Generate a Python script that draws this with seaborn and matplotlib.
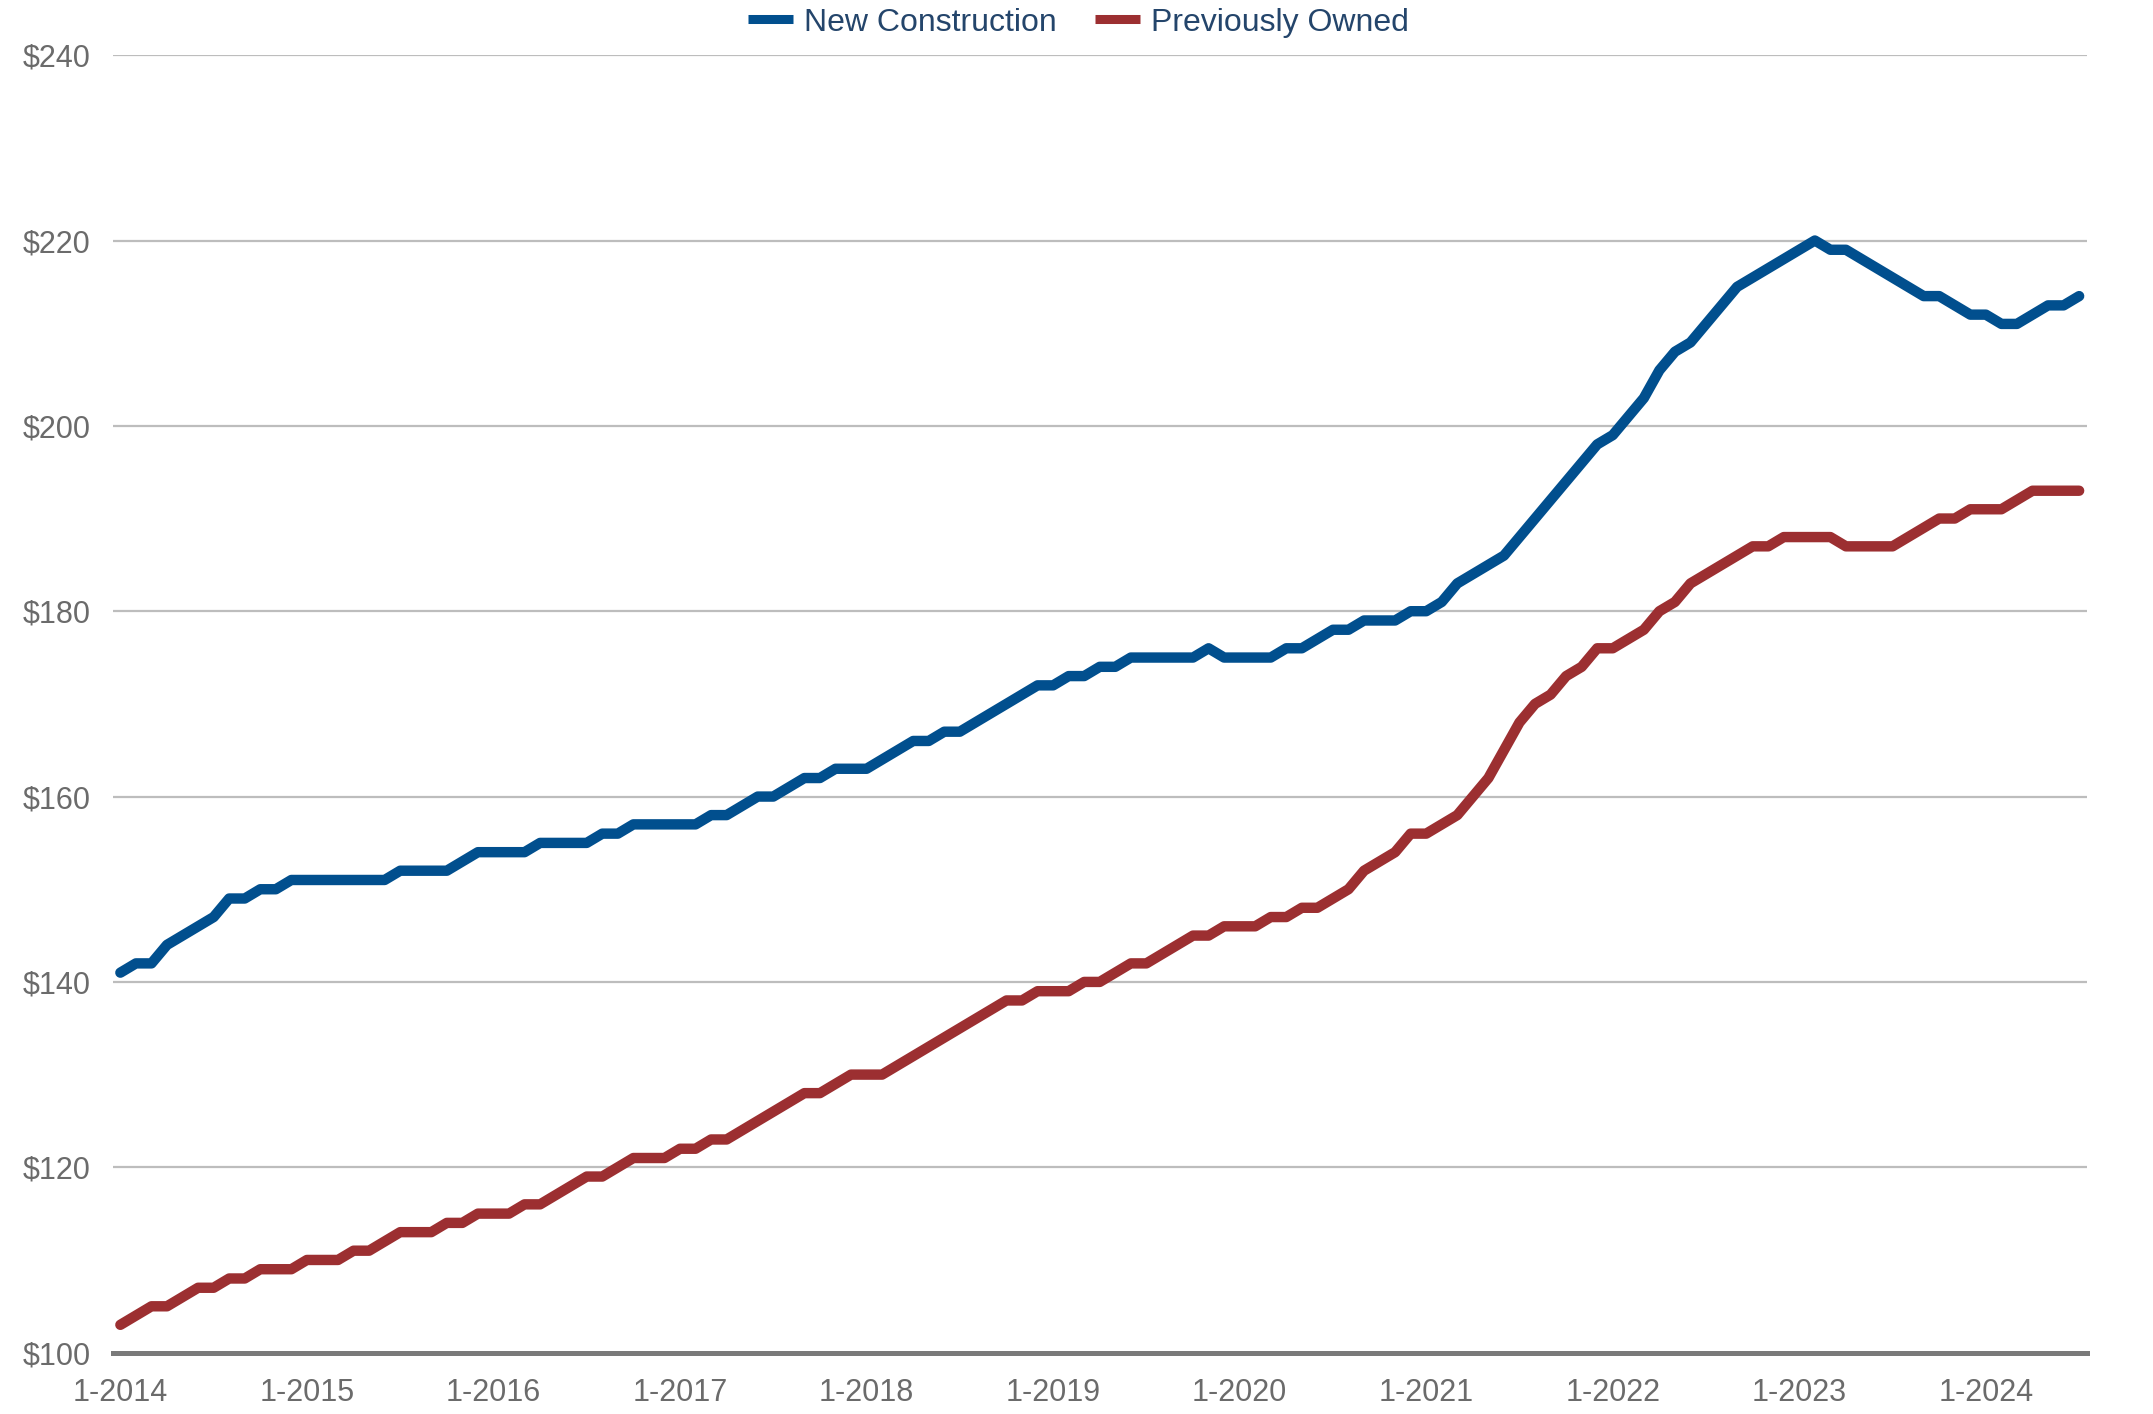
import numpy as np
import pandas as pd
import matplotlib.pyplot as plt
import seaborn as sns

# monthly values, 1-2014 .. 7-2024
new_construction = [141, 142, 142, 144, 145, 146, 147, 149, 149, 150, 150, 151,
                    151, 151, 151, 151, 151, 151, 152, 152, 152, 152, 153, 154,
                    154, 154, 154, 155, 155, 155, 155, 156, 156, 157, 157, 157,
                    157, 157, 158, 158, 159, 160, 160, 161, 162, 162, 163, 163,
                    163, 164, 165, 166, 166, 167, 167, 168, 169, 170, 171, 172,
                    172, 173, 173, 174, 174, 175, 175, 175, 175, 175, 176, 175,
                    175, 175, 175, 176, 176, 177, 178, 178, 179, 179, 179, 180,
                    180, 181, 183, 184, 185, 186, 188, 190, 192, 194, 196, 198,
                    199, 201, 203, 206, 208, 209, 211, 213, 215, 216, 217, 218,
                    219, 220, 219, 219, 218, 217, 216, 215, 214, 214, 213, 212,
                    212, 211, 211, 212, 213, 213, 214]
previously_owned = [103, 104, 105, 105, 106, 107, 107, 108, 108, 109, 109, 109,
                    110, 110, 110, 111, 111, 112, 113, 113, 113, 114, 114, 115,
                    115, 115, 116, 116, 117, 118, 119, 119, 120, 121, 121, 121,
                    122, 122, 123, 123, 124, 125, 126, 127, 128, 128, 129, 130,
                    130, 130, 131, 132, 133, 134, 135, 136, 137, 138, 138, 139,
                    139, 139, 140, 140, 141, 142, 142, 143, 144, 145, 145, 146,
                    146, 146, 147, 147, 148, 148, 149, 150, 152, 153, 154, 156,
                    156, 157, 158, 160, 162, 165, 168, 170, 171, 173, 174, 176,
                    176, 177, 178, 180, 181, 183, 184, 185, 186, 187, 187, 188,
                    188, 188, 188, 187, 187, 187, 187, 188, 189, 190, 190, 191,
                    191, 191, 192, 193, 193, 193, 193]
tick_labels = ['1-2014', '1-2015', '1-2016', '1-2017', '1-2018', '1-2019',
               '1-2020', '1-2021', '1-2022', '1-2023', '1-2024']
y_ticks = [100, 120, 140, 160, 180, 200, 220, 240]
series_names = ['New Construction', 'Previously Owned']

n = len(new_construction)
df = pd.DataFrame({'month': np.arange(n),
                   series_names[0]: new_construction,
                   series_names[1]: previously_owned})
df = df.melt(id_vars='month', var_name='series', value_name='price')

sns.set_style('white')
plt.rcParams['font.family'] = ['Liberation Sans', 'DejaVu Sans']

blue = '#014F8E'
red = '#9C2F31'
tick_color = '#6B6B6B'

fig = plt.figure(figsize=(21.53, 14.14), dpi=100)
ax = fig.add_axes([0.0523, 0.0434, 0.917, 0.9176])

sns.lineplot(data=df, x='month', y='price', hue='series',
             palette=[blue, red], linewidth=7.5,
             solid_capstyle='round', solid_joinstyle='round',
             ax=ax)

ax.set_xlim(-0.5, n - 0.5)
ax.set_ylim(100, 240)
ax.set_xticks(np.arange(0, 12 * len(tick_labels), 12))
ax.set_xticklabels(tick_labels)
ax.set_yticks(y_ticks)
ax.set_yticklabels(['$' + str(v) for v in y_ticks])
ax.set_xlabel('')
ax.set_ylabel('')

ax.grid(axis='y', color='#BDBDBD', linewidth=1.6)
ax.grid(axis='x', visible=False)
ax.set_axisbelow(True)
for s in ['top', 'right', 'left']:
    ax.spines[s].set_visible(False)
ax.spines['bottom'].set_color('#7A7A7A')
ax.spines['bottom'].set_linewidth(3.6)

ax.tick_params(axis='x', length=9, width=3.4, color='#7A7A7A',
               labelsize=22, labelcolor=tick_color, pad=9, direction='out')
ax.tick_params(axis='y', length=0, labelsize=22, labelcolor=tick_color, pad=16)

# legend on top, centered
handles, labels = ax.get_legend_handles_labels()
ax.get_legend().remove()
leg = fig.legend(handles, labels, loc='center', bbox_to_anchor=(0.501, 0.984),
                 ncol=2, frameon=False, fontsize=23, handlelength=1.4,
                 handletextpad=0.35, columnspacing=1.2, labelcolor='#24456B')
for h in leg.get_lines():
    h.set_solid_capstyle('butt')
    h.set_linewidth(6.5)

plt.savefig('out.png', dpi=100)
